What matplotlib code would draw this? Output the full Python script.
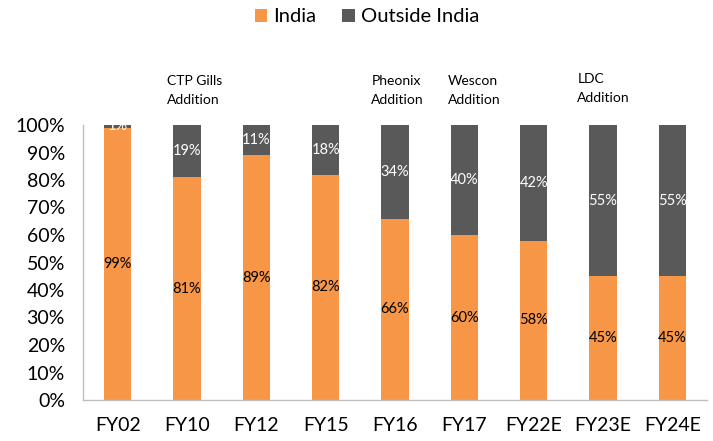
import matplotlib
matplotlib.use("Agg")
import matplotlib.pyplot as plt
import numpy as np

categories = ["FY02", "FY10", "FY12", "FY15", "FY16", "FY17", "FY22E", "FY23E", "FY24E"]
india = [99, 81, 89, 82, 66, 60, 58, 45, 45]
outside = [1, 19, 11, 18, 34, 40, 42, 55, 55]
events = ["CTP Gills\nAddition", "Pheonix\nAddition", "Wescon\nAddition", "LDC\nAddition"]
event_x = [0.71, 3.66, 4.76, 6.63]
event_y = [1.127, 1.127, 1.127, 1.134]

plt.rcParams['font.family'] = ['Lato', 'DejaVu Sans']
ORANGE = "#F79646"
GREY = "#595959"

fig = plt.figure(figsize=(7.13, 4.41), dpi=100)
ax = fig.add_axes([83/713, 41/441, 624/713, 275/441])

x = np.arange(len(categories))
ind = np.array(india) / 100
out = np.array(outside) / 100
w = 0.39
b1 = ax.bar(x, ind, width=w, color=ORANGE, label="India", zorder=2)
b2 = ax.bar(x, out, width=w, bottom=ind, color=GREY, label="Outside India", zorder=2)

for xi, v, o in zip(x, india, outside):
    ax.text(xi, v / 200, f"{v}%", ha="center", va="center", fontsize=10.5, color="black")
    ax.text(xi, v / 100 + o / 200, f"{o}%", ha="center", va="center", fontsize=10.5, color="white")

ax.set_xlim(-0.5, len(categories) - 0.5)
ax.set_ylim(0, 1)
ax.set_yticks(np.arange(0, 1.01, 0.1))
ax.set_yticklabels([f"{int(round(t*100))}%" for t in np.arange(0, 1.01, 0.1)], fontsize=14)
ax.set_xticks(x)
ax.set_xticklabels(categories, fontsize=14)
ax.tick_params(axis="both", length=0)
ax.tick_params(axis="x", pad=12)
ax.tick_params(axis="y", pad=13)
for s in ["top", "right"]:
    ax.spines[s].set_visible(False)
for s in ["left", "bottom"]:
    ax.spines[s].set_color("#BFBFBF")
    ax.spines[s].set_linewidth(1)

tr = ax.get_xaxis_transform()
for ex, ey, t in zip(event_x, event_y, events):
    ax.text(ex, ey, t, transform=tr, ha="left", va="center", fontsize=10, linespacing=1.7)

fig.legend(handles=[b1, b2], loc="center", bbox_to_anchor=(367/713, 1 - 17/441),
           ncol=2, frameon=False, fontsize=14.5, handlelength=0.6, handleheight=0.6,
           handletextpad=0.3, columnspacing=1.3)

fig.savefig("out.png", dpi=100)
